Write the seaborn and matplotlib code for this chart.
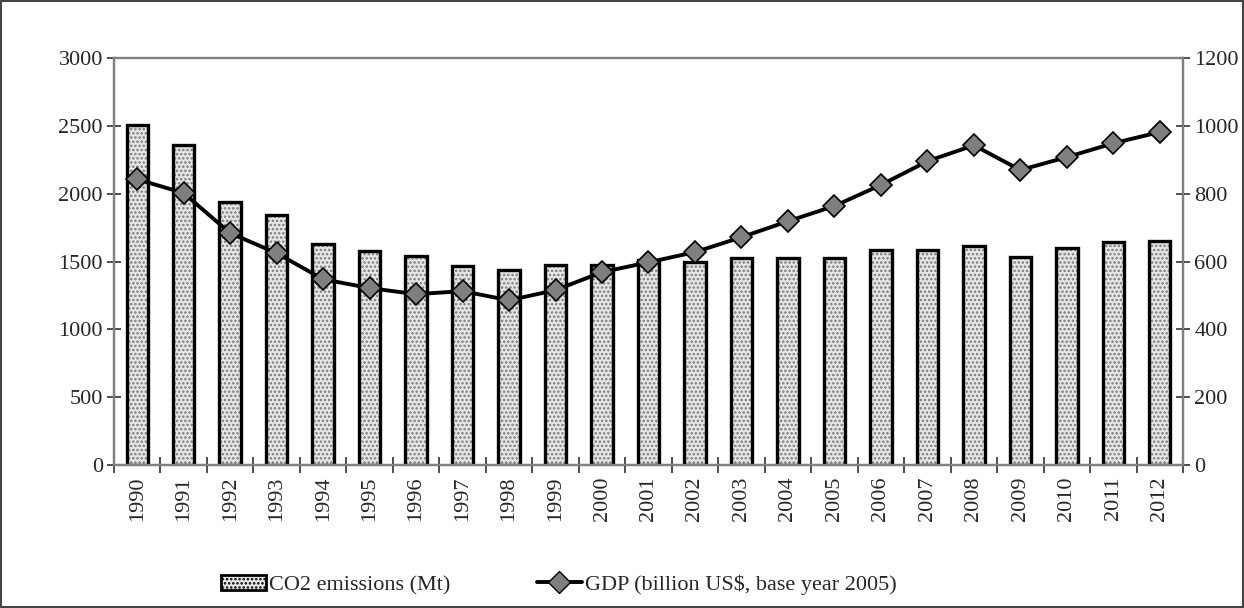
import numpy as np
import pandas as pd
import seaborn as sns
import matplotlib.pyplot as plt
from matplotlib.patches import Patch
from matplotlib.lines import Line2D
from matplotlib.ticker import FixedLocator

years = [str(y) for y in range(1990, 2013)]
co2 = [2505, 2360, 1940, 1845, 1630, 1580, 1540, 1465, 1440, 1475, 1475, 1510,
       1495, 1525, 1525, 1530, 1585, 1585, 1615, 1535, 1600, 1645, 1655]
gdp = [843, 802, 684, 625, 548, 522, 504, 513, 486, 516, 569, 598,
       628, 672, 719, 764, 826, 896, 943, 870, 908, 949, 982]

df = pd.DataFrame({"year": years, "co2": co2, "gdp": gdp})

sns.set_style("white")
plt.rcParams["font.family"] = ["Liberation Serif", "DejaVu Serif"]
plt.rcParams["hatch.color"] = "#7a7a7a"
plt.rcParams["hatch.linewidth"] = 1.2

fs = 16

fig = plt.figure(figsize=(12.44, 6.08), dpi=100)
fig.patch.set_edgecolor("#444444")
fig.patch.set_linewidth(1.5)
ax = fig.add_axes([0.0916, 0.235, 0.8594, 0.6694])

# hatched fill first, then black outline on top
sns.barplot(data=df, x="year", y="co2", ax=ax, color="#e6e6e6", width=0.46,
            saturation=1, edgecolor="#7a7a7a", linewidth=0)
for p in ax.patches:
    p.set_hatch("....")
sns.barplot(data=df, x="year", y="co2", ax=ax, fill=False, width=0.46,
            edgecolor="black", linewidth=2.4)

ax.set_ylim(0, 3000)
ax.set_yticks(range(0, 3001, 500))
ax.set_xlim(-0.5, len(years) - 0.5)
ax.set_xlabel("")
ax.set_ylabel("")

ax2 = ax.twinx()
sns.pointplot(data=df, x="year", y="gdp", ax=ax2, color="black", markers="D",
              linewidth=2.8, markersize=11, markerfacecolor="#7f7f7f",
              markeredgecolor="black", markeredgewidth=1.2)
ax2.set_ylim(0, 1200)
ax2.set_yticks(range(0, 1201, 200))
ax2.set_ylabel("")
ax2.set_xlabel("")
ax.set_xlim(-0.5, len(years) - 0.5)

for a in (ax, ax2):
    for s in a.spines.values():
        s.set_color("#808080")
        s.set_linewidth(1.6)
ax.spines["bottom"].set_color("#606060")

ax.tick_params(axis="y", direction="inout", length=10, width=1.2, color="#303030",
               labelsize=fs, pad=3, left=True)
ax2.tick_params(axis="y", direction="inout", length=10, width=1.2, color="#303030",
                labelsize=fs, pad=3, right=True)
ax.tick_params(axis="x", which="major", length=0, labelsize=fs, rotation=90, pad=8)
ax.xaxis.set_minor_locator(FixedLocator(np.arange(-0.5, len(years), 1.0)))
ax.tick_params(axis="x", which="minor", direction="inout", length=12, width=1.2,
               color="#303030", bottom=True)

handles = [
    Patch(facecolor="#e6e6e6", edgecolor="black", hatch="....", linewidth=2),
    Line2D([0], [0], color="black", lw=2.8, marker="D", markersize=11,
           markerfacecolor="#7f7f7f", markeredgecolor="black"),
]
fig.legend(handles, ["CO2 emissions (Mt)", "GDP (billion US$, base year 2005)"],
           loc="center left", bbox_to_anchor=(0.178, 0.038), ncol=2, frameon=False,
           fontsize=fs, borderpad=0, borderaxespad=0, columnspacing=3.9,
           handlelength=2.0, handletextpad=0.15)

fig.savefig("out.png", dpi=100)
